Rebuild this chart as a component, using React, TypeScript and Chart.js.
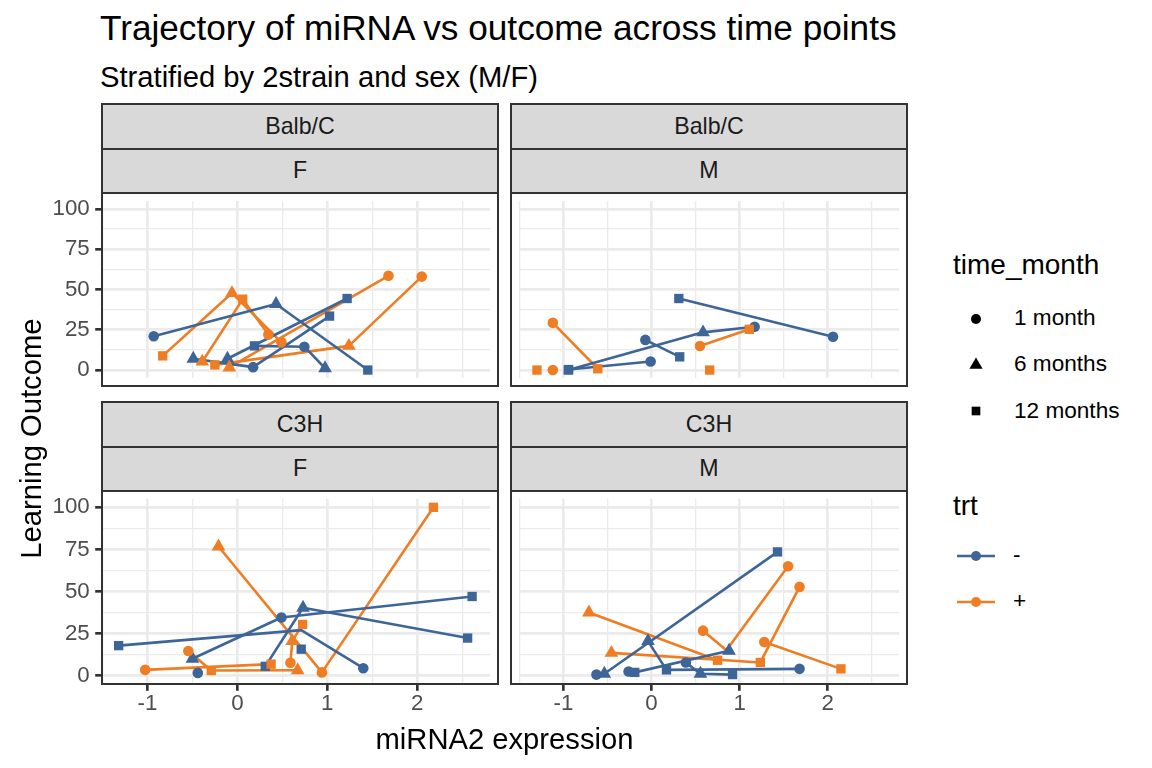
import React, { useEffect, useRef } from 'react';
import { Chart, registerables } from 'chart.js';

Chart.register(...registerables);

// point = [miRNA2 expression, learning outcome, time in months] ; time 0 = line vertex without a visible marker
type Pt = [number, number, number];

// ---------------- data ----------------
const BALB_F_MINUS: Pt[][] = [
  [[-0.93, 21, 1], [0.43, 41, 6], [1.45, 0, 12]],
  [[0.19, 15, 12], [0.745, 14.5, 1], [0.975, 1.1, 6]],
  [[-0.49, 7, 6], [0.175, 1.8, 1], [1.025, 33.5, 12]],
  [[-0.11, 7, 6], [1.22, 44.4, 12]],
];
const BALB_F_PLUS: Pt[][] = [
  [[-0.83, 8.8, 12], [-0.06, 47.8, 6], [0.49, 17.2, 1]],
  [[-0.39, 5.2, 6], [0.06, 44, 12], [0.345, 22, 1]],
  [[-0.25, 3.2, 12], [1.24, 15, 6], [2.05, 58, 1]],
  [[-0.09, 1.6, 6], [1.68, 58.5, 1]],
];
const BALB_M_MINUS: Pt[][] = [
  [[-0.945, 0, 12], [0.585, 23.4, 6], [1.17, 26.9, 1]],
  [[-0.94, 0.3, 12], [-0.01, 5.3, 1]],
  [[-0.07, 18.7, 1], [0.32, 8.2, 12]],
  [[0.31, 44.4, 12], [2.06, 20.7, 1]],
];
const BALB_M_PLUS: Pt[][] = [
  [[-1.12, 29.3, 1], [-0.61, 0.8, 12]],
  [[0.55, 14.9, 1], [1.11, 25.3, 12]],
  [[-1.3, 0, 12]],
  [[-1.12, 0, 1]],
  [[0.66, 0, 12]],
];
const C3H_F_MINUS: Pt[][] = [
  [[-1.32, 17.8, 12], [0.71, 27, 0], [1.4, 4.4, 1]],
  [[-0.5, 10, 6], [0.49, 34.5, 1], [2.61, 47, 12]],
  [[0.31, 5.5, 12], [0.73, 40.3, 6], [2.56, 22.3, 12]],
  [[-0.44, 1.6, 1]],
  [[0.71, 15.7, 12]],
];
const C3H_F_PLUS: Pt[][] = [
  [[-0.21, 76.7, 6], [0.94, 1.9, 1], [2.18, 100, 12]],
  [[-1.025, 3.4, 1], [0.375, 6.8, 12]],
  [[-0.545, 14.6, 1], [-0.29, 3, 12], [0.67, 3.2, 6]],
  [[0.59, 7.6, 1], [0.61, 20.5, 6], [0.725, 30.4, 12]],
];
const C3H_M_MINUS: Pt[][] = [
  [[-0.625, 0.6, 1], [-0.535, 1.1, 6], [1.43, 73.5, 12]],
  [[-0.04, 20.5, 6], [0.17, 3.4, 12], [1.68, 4, 1]],
  [[-0.26, 2.4, 1], [-0.19, 1.9, 12], [0.88, 14.8, 6]],
  [[0.39, 7.8, 1], [0.555, 1.1, 6], [0.92, 0.6, 12]],
];
const C3H_M_PLUS: Pt[][] = [
  [[-0.71, 37.5, 6], [0.75, 9.1, 12]],
  [[-0.455, 13.5, 6], [1.235, 7.8, 12], [1.68, 52.7, 1]],
  [[0.585, 26.7, 1], [0.85, 15, 0], [1.55, 65, 1]],
  [[1.28, 20, 1], [2.15, 4, 12]],
];

const X_TICKS = [-1, 0, 1, 2];
const X_MINOR = [-1.5, -0.5, 0.5, 1.5, 2.5];
const Y_TICKS = [0, 25, 50, 75, 100];
const Y_MINOR = [12.5, 37.5, 62.5, 87.5];
const X_RANGE = [-1.505, 2.81];
const Y_RANGE = [-5, 105];
const STRAINS = ['Balb/C', 'C3H'];
const SEXES = ['F', 'M'];
const TIME_LABELS = ['1 month', '6 months', '12 months'];
const TRT_LABELS = ['-', '+'];

// ---------------- styling ----------------
const FONT = '"Liberation Sans", Arial, Helvetica, sans-serif';
const BLUE = '#3D6597';
const ORANGE = '#EE7D23';
const STYLE_BY_TIME: Record<number, string> = { 1: 'circle', 6: 'triangle', 12: 'rect' };
const RADIUS_BY_TIME: Record<number, number> = { 1: 5.3, 6: 7.9, 12: 6.6 };
const PANEL_W = 396;
const PANEL_H = 193;
const COL_LEFT = [102, 511];
const ROW_TOP = [193, 491];
const STRIP_H = 44.5;

function axis(kind: 'x' | 'y', show: boolean, size: number) {
  const majors = kind === 'x' ? X_TICKS : Y_TICKS;
  const minors = kind === 'x' ? X_MINOR : Y_MINOR;
  const range = kind === 'x' ? X_RANGE : Y_RANGE;
  const isMajor = (v: number) => majors.includes(v);
  return {
    type: 'linear',
    position: kind === 'x' ? 'bottom' : 'left',
    min: range[0],
    max: range[1],
    afterBuildTicks: (s: any) => {
      s.ticks = [...majors, ...minors].sort((a, b) => a - b).map((v) => ({ value: v }));
    },
    afterFit: (s: any) => {
      if (kind === 'x') s.height = size;
      else s.width = size;
      s.paddingLeft = 0;
      s.paddingRight = 0;
      s.paddingTop = 0;
      s.paddingBottom = 0;
    },
    border: { display: false },
    grid: {
      color: '#EBEBEB',
      lineWidth: (c: any) => (c.tick && isMajor(c.tick.value) ? 2.67 : 1.33),
      drawTicks: show,
      tickLength: 6.8,
      tickWidth: 2.67,
      tickColor: (c: any) => (c.tick && isMajor(c.tick.value) ? '#333333' : 'rgba(0,0,0,0)'),
    },
    ticks: {
      display: show,
      autoSkip: false,
      maxRotation: 0,
      minRotation: 0,
      padding: kind === 'x' ? 2 : 5.5,
      color: '#4D4D4D',
      font: { family: FONT, size: 22.3, lineHeight: 1 },
      callback: (v: number) => (isMajor(v) ? String(v) : ''),
    },
  };
}

function Panel(props: { minus: Pt[][]; plus: Pt[][]; row: number; col: number }) {
  const { minus, plus, row, col } = props;
  const showY = col === 0;
  const showX = row === 1;
  const axisW = showY ? 62 : 0;
  const axisH = showX ? 45 : 0;
  const cw = PANEL_W + axisW;
  const ch = PANEL_H + axisH;
  const left = COL_LEFT[col] - axisW;
  const top = ROW_TOP[row];
  const ref = useRef<HTMLCanvasElement>(null);

  useEffect(() => {
    if (!ref.current) return;
    const lineSets = (trajs: Pt[][], color: string) =>
      trajs
        .filter((t) => t.length > 1)
        .map((t) => ({
          data: t.map(([x, y]) => ({ x, y })),
          showLine: true,
          borderColor: color,
          borderWidth: 2.6,
          borderJoinStyle: 'round',
          pointRadius: 0,
          pointHoverRadius: 0,
          order: 3,
        }));
    const pointSet = (trajs: Pt[][], color: string, order: number) => ({
      data: trajs
        .flat()
        .filter((p) => p[2] !== 0)
        .map(([x, y, t]) => ({ x, y, t })),
      showLine: false,
      pointStyle: (c: any) => (c.raw ? STYLE_BY_TIME[c.raw.t] : 'circle'),
      pointRadius: (c: any) => (c.raw ? RADIUS_BY_TIME[c.raw.t] : 5),
      pointBackgroundColor: color,
      pointBorderColor: color,
      pointBorderWidth: 0,
      order,
    });
    const chart = new Chart(ref.current, {
      type: 'scatter',
      data: {
        datasets: [
          ...lineSets(minus, BLUE),
          ...lineSets(plus, ORANGE),
          pointSet(minus, BLUE, 2),
          pointSet(plus, ORANGE, 1),
        ] as any,
      },
      options: {
        animation: false,
        responsive: false,
        events: [],
        layout: { padding: 0 },
        plugins: { legend: { display: false }, tooltip: { enabled: false } },
        scales: {
          x: axis('x', showX, axisH) as any,
          y: axis('y', showY, axisW) as any,
        },
      } as any,
    });
    return () => chart.destroy();
  }, []);

  const pl = COL_LEFT[col];
  const stripTop = ROW_TOP[row] - 2 * STRIP_H;
  return (
    <>
      <canvas
        ref={ref}
        width={cw}
        height={ch}
        style={{ position: 'absolute', left, top, width: cw, height: ch }}
      />
      <div
        style={{
          position: 'absolute',
          left: pl - 1,
          top: ROW_TOP[row] - 1,
          width: PANEL_W + 2,
          height: PANEL_H + 2,
          border: '2px solid #333333',
          boxSizing: 'border-box',
        }}
      />
      {[STRAINS[row], SEXES[col]].map((label, i) => (
        <div
          key={i}
          style={{
            position: 'absolute',
            left: pl - 1,
            top: stripTop + i * STRIP_H - 1,
            width: PANEL_W + 2,
            height: STRIP_H + 2,
            border: '2px solid #333333',
            boxSizing: 'border-box',
            background: '#D9D9D9',
            color: '#1A1A1A',
            fontSize: 23.2,
            lineHeight: '23.2px',
            display: 'flex',
            alignItems: 'center',
            justifyContent: 'center',
          }}
        >
          {label}
        </div>
      ))}
    </>
  );
}

function Txt(props: { x: number; base: number; size: number; children: React.ReactNode; color?: string }) {
  const { x, base, size, children, color } = props;
  return (
    <div
      style={{
        position: 'absolute',
        left: x,
        top: base - 0.8465 * size,
        fontSize: size,
        lineHeight: `${size}px`,
        whiteSpace: 'nowrap',
        color: color || '#000000',
      }}
    >
      {children}
    </div>
  );
}

const PANELS = [
  { minus: BALB_F_MINUS, plus: BALB_F_PLUS, row: 0, col: 0 },
  { minus: BALB_M_MINUS, plus: BALB_M_PLUS, row: 0, col: 1 },
  { minus: C3H_F_MINUS, plus: C3H_F_PLUS, row: 1, col: 0 },
  { minus: C3H_M_MINUS, plus: C3H_M_PLUS, row: 1, col: 1 },
];

export default function App() {
  const tri = (cx: number, cy: number) =>
    `${cx},${cy - 7.6} ${cx + 6.58},${cy + 3.8} ${cx - 6.58},${cy + 3.8}`;
  return (
    <div
      style={{
        position: 'absolute',
        left: 0,
        top: 0,
        width: 1152,
        height: 768,
        background: '#FFFFFF',
        fontFamily: FONT,
        overflow: 'hidden',
      }}
    >
      <Txt x={100} base={40} size={35.2}>
        Trajectory of miRNA vs outcome across time points
      </Txt>
      <Txt x={100} base={88} size={29.2}>
        Stratified by 2strain and sex (M/F)
      </Txt>

      {PANELS.map((p, i) => (
        <Panel key={i} minus={p.minus} plus={p.plus} row={p.row} col={p.col} />
      ))}

      {/* axis titles */}
      <div
        style={{
          position: 'absolute',
          left: 304.5,
          top: 740 - 14.6,
          width: 400,
          textAlign: 'center',
          fontSize: 29.2,
          lineHeight: '29.2px',
          whiteSpace: 'nowrap',
        }}
      >
        miRNA2 expression
      </div>
      <div
        style={{
          position: 'absolute',
          left: 32 - 200,
          top: 439 - 14.6,
          width: 400,
          textAlign: 'center',
          fontSize: 29.2,
          lineHeight: '29.2px',
          whiteSpace: 'nowrap',
          transform: 'rotate(-90deg)',
        }}
      >
        Learning Outcome
      </div>

      {/* legends */}
      <Txt x={953} base={275} size={28}>time_month</Txt>
      <Txt x={1014} base={326} size={22.6}>{TIME_LABELS[0]}</Txt>
      <Txt x={1014} base={372.5} size={22.6}>{TIME_LABELS[1]}</Txt>
      <Txt x={1014} base={419} size={22.6}>{TIME_LABELS[2]}</Txt>
      <Txt x={953} base={516} size={28}>trt</Txt>
      <Txt x={1013} base={563.5} size={22.6}>{TRT_LABELS[0]}</Txt>
      <Txt x={1013} base={609.5} size={22.6}>{TRT_LABELS[1]}</Txt>
      <svg
        width={1152}
        height={768}
        style={{ position: 'absolute', left: 0, top: 0, pointerEvents: 'none' }}
      >
        <circle cx={976} cy={319} r={5} fill="#000" />
        <polygon points={tri(976, 365)} fill="#000" />
        <rect x={976 - 4.33} y={411 - 4.33} width={8.66} height={8.66} fill="#000" />
        <line x1={957} x2={995} y1={556} y2={556} stroke={BLUE} strokeWidth={2.67} />
        <circle cx={976} cy={556} r={5} fill={BLUE} />
        <line x1={957} x2={995} y1={602} y2={602} stroke={ORANGE} strokeWidth={2.67} />
        <circle cx={976} cy={602} r={5} fill={ORANGE} />
      </svg>
    </div>
  );
}
